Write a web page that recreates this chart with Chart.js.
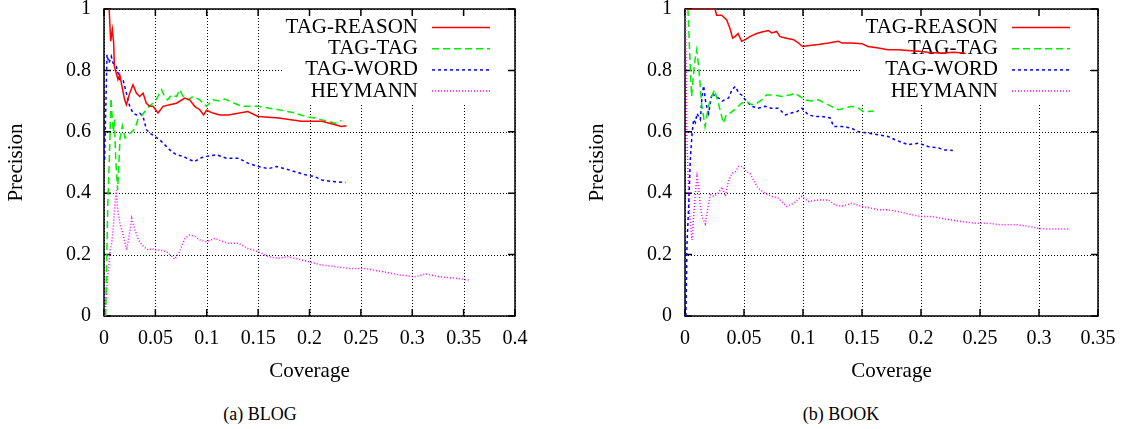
<!DOCTYPE html>
<html>
<head>
<meta charset="utf-8">
<title>Precision vs Coverage</title>
<script src="https://cdn.jsdelivr.net/npm/chart.js@4.4.0/dist/chart.umd.min.js"></script>
<style>
  body { margin: 0; background: #fff; }
  #wrap { position: relative; width: 1123px; height: 429px; font-family: "Liberation Serif", "Times New Roman", serif; }
  .panel { position: absolute; top: 0; height: 390px; }
  #blogPanel { left: 0; width: 560px; }
  #bookPanel { left: 580px; width: 543px; }
  .cap { position: absolute; top: 404px; font-size: 18px; line-height: 21px; transform: translateX(-50%); white-space: nowrap; }
</style>
</head>
<body>
<div id="wrap">
  <div class="panel" id="blogPanel"><canvas id="blogChart"></canvas></div>
  <div class="panel" id="bookPanel"><canvas id="bookChart"></canvas></div>
  <div class="cap" style="left:260px">(a) BLOG</div>
  <div class="cap" style="left:841px">(b) BOOK</div>
</div>
<script>
// ---- data ----
const seriesNames = ['TAG-REASON', 'TAG-TAG', 'TAG-WORD', 'HEYMANN'];
const precisionTicks = [0, 0.2, 0.4, 0.6, 0.8, 1];
const blogCoverageTicks = [0, 0.05, 0.1, 0.15, 0.2, 0.25, 0.3, 0.35, 0.4];
const bookCoverageTicks = [0, 0.05, 0.1, 0.15, 0.2, 0.25, 0.3, 0.35];

// (a) BLOG
const blogReasonX = [0.0050, 0.0065, 0.0081, 0.0094, 0.0101, 0.0114, 0.0136, 0.0153, 0.0175, 0.0201, 0.0218, 0.025, 0.0282, 0.0315, 0.0347, 0.038, 0.0412, 0.0445, 0.0477, 0.0526, 0.0575, 0.064, 0.0705, 0.0786, 0.0834, 0.0883, 0.0932, 0.097, 0.0997, 0.106, 0.1127, 0.121, 0.140, 0.150, 0.170, 0.192, 0.212, 0.225, 0.231, 0.236];
const blogReasonY = [1.0, 0.895, 0.933, 0.89, 0.813, 0.797, 0.77, 0.786, 0.748, 0.704, 0.688, 0.726, 0.753, 0.726, 0.715, 0.726, 0.693, 0.683, 0.683, 0.661, 0.683, 0.688, 0.693, 0.71, 0.704, 0.683, 0.672, 0.655, 0.67, 0.661, 0.655, 0.655, 0.666, 0.65, 0.645, 0.634, 0.634, 0.623, 0.617, 0.62];

const blogTagX = [0.0016, 0.0036, 0.0058, 0.0068, 0.0081, 0.0091, 0.0101, 0.0114, 0.0133, 0.0156, 0.0179, 0.0205, 0.0237, 0.027, 0.030, 0.033, 0.036, 0.043, 0.050, 0.056, 0.059, 0.062, 0.0656, 0.0705, 0.0737, 0.077, 0.0818, 0.0867, 0.0932, 0.0997, 0.106, 0.1127, 0.1175, 0.127, 0.134, 0.150, 0.170, 0.186, 0.196, 0.205, 0.218, 0.225, 0.231];
const blogTagY = [0, 0.35, 0.58, 0.71, 0.64, 0.60, 0.64, 0.51, 0.41, 0.58, 0.62, 0.58, 0.59, 0.60, 0.61, 0.64, 0.65, 0.68, 0.70, 0.737, 0.715, 0.704, 0.72, 0.715, 0.737, 0.715, 0.704, 0.715, 0.704, 0.683, 0.704, 0.70, 0.707, 0.693, 0.683, 0.683, 0.672, 0.661, 0.65, 0.645, 0.634, 0.628, 0.637];

const blogWordX = [0.0006, 0.0029, 0.0049, 0.0071, 0.0088, 0.012, 0.0153, 0.0185, 0.0218, 0.025, 0.0283, 0.0315, 0.0348, 0.038, 0.0413, 0.0445, 0.0494, 0.0543, 0.0608, 0.0657, 0.0705, 0.077, 0.0835, 0.0884, 0.0933, 0.0998, 0.1095, 0.119, 0.131, 0.140, 0.150, 0.160, 0.168, 0.176, 0.186, 0.196, 0.205, 0.212, 0.222, 0.235];
const blogWordY = [0.509, 0.851, 0.824, 0.846, 0.824, 0.813, 0.77, 0.77, 0.726, 0.683, 0.661, 0.655, 0.661, 0.65, 0.607, 0.596, 0.585, 0.574, 0.552, 0.536, 0.525, 0.52, 0.509, 0.503, 0.514, 0.52, 0.525, 0.514, 0.514, 0.498, 0.487, 0.48, 0.487, 0.48, 0.47, 0.46, 0.454, 0.443, 0.438, 0.435];

const blogHeymannX = [0.001, 0.0023, 0.0036, 0.0049, 0.0059, 0.0075, 0.0091, 0.0107, 0.012, 0.0133, 0.0156, 0.0189, 0.0221, 0.0254, 0.027, 0.0302, 0.0335, 0.0384, 0.0432, 0.0465, 0.0497, 0.0543, 0.0608, 0.064, 0.0689, 0.0737, 0.0786, 0.0835, 0.0884, 0.0933, 0.0997, 0.108, 0.116, 0.121, 0.131, 0.140, 0.150, 0.160, 0.170, 0.178, 0.186, 0.199, 0.212, 0.225, 0.238, 0.254, 0.270, 0.287, 0.303, 0.313, 0.326, 0.342, 0.355];
const blogHeymannY = [0, 0.074, 0.128, 0.17, 0.215, 0.237, 0.29, 0.367, 0.41, 0.346, 0.30, 0.26, 0.215, 0.28, 0.318, 0.28, 0.248, 0.226, 0.215, 0.22, 0.215, 0.215, 0.21, 0.2, 0.185, 0.21, 0.253, 0.264, 0.259, 0.248, 0.242, 0.253, 0.242, 0.237, 0.237, 0.22, 0.21, 0.193, 0.188, 0.193, 0.188, 0.177, 0.166, 0.161, 0.155, 0.155, 0.145, 0.134, 0.128, 0.137, 0.128, 0.123, 0.117];

// (b) BOOK
const bookReasonX = [0.0005, 0.0254, 0.0268, 0.031, 0.0353, 0.0367, 0.038, 0.0404, 0.0424, 0.045, 0.048, 0.051, 0.055, 0.0607, 0.066, 0.0706, 0.0735, 0.0777, 0.0805, 0.086, 0.092, 0.096, 0.0995, 0.104, 0.113, 0.1215, 0.13, 0.133, 0.141, 0.15, 0.155, 0.164, 0.172, 0.181, 0.189, 0.198, 0.206, 0.215, 0.22, 0.227, 0.237];
const bookReasonY = [1.0, 1.0, 0.98, 0.98, 0.965, 0.95, 0.938, 0.905, 0.91, 0.92, 0.895, 0.9, 0.91, 0.92, 0.926, 0.93, 0.922, 0.927, 0.91, 0.905, 0.9, 0.89, 0.878, 0.88, 0.884, 0.889, 0.895, 0.889, 0.889, 0.887, 0.878, 0.873, 0.867, 0.867, 0.865, 0.862, 0.859, 0.857, 0.857, 0.859, 0.857];

const bookTagX = [0.0025, 0.0042, 0.0056, 0.007, 0.0085, 0.0099, 0.0119, 0.014, 0.017, 0.0198, 0.0226, 0.025, 0.0297, 0.0325, 0.035, 0.038, 0.042, 0.048, 0.052, 0.0565, 0.061, 0.065, 0.069, 0.076, 0.082, 0.089, 0.093, 0.0975, 0.1017, 0.107, 0.113, 0.1187, 0.124, 0.13, 0.1356, 0.141, 0.147, 0.151, 0.155, 0.16];
const bookTagY = [1.0, 0.835, 0.715, 0.78, 0.835, 0.867, 0.80, 0.693, 0.617, 0.683, 0.715, 0.737, 0.672, 0.628, 0.655, 0.66, 0.672, 0.693, 0.70, 0.688, 0.693, 0.704, 0.72, 0.72, 0.715, 0.72, 0.726, 0.715, 0.704, 0.70, 0.704, 0.693, 0.683, 0.672, 0.677, 0.683, 0.677, 0.666, 0.666, 0.668];

const bookWordX = [0.0008, 0.0017, 0.003, 0.0045, 0.006, 0.0073, 0.0088, 0.0102, 0.0116, 0.013, 0.0144, 0.0158, 0.0172, 0.0186, 0.02, 0.0229, 0.0257, 0.0285, 0.0314, 0.0342, 0.037, 0.0398, 0.0427, 0.0455, 0.048, 0.051, 0.0565, 0.062, 0.068, 0.073, 0.079, 0.085, 0.09, 0.095, 0.099, 0.1045, 0.11, 0.116, 0.123, 0.126, 0.133, 0.141, 0.147, 0.155, 0.164, 0.172, 0.178, 0.189, 0.198, 0.206, 0.215, 0.22, 0.227];
const bookWordY = [0, 0.237, 0.346, 0.51, 0.595, 0.64, 0.63, 0.66, 0.65, 0.64, 0.715, 0.75, 0.705, 0.68, 0.66, 0.726, 0.715, 0.71, 0.70, 0.705, 0.71, 0.737, 0.748, 0.726, 0.72, 0.704, 0.683, 0.677, 0.683, 0.677, 0.677, 0.655, 0.661, 0.666, 0.677, 0.655, 0.65, 0.65, 0.645, 0.617, 0.617, 0.612, 0.60, 0.596, 0.59, 0.585, 0.574, 0.558, 0.563, 0.552, 0.547, 0.541, 0.539];

const bookHeymannX = [0.0004, 0.0015, 0.0035, 0.0059, 0.0073, 0.0088, 0.0102, 0.0116, 0.013, 0.0144, 0.0172, 0.02, 0.0215, 0.0243, 0.028, 0.0314, 0.0342, 0.037, 0.0398, 0.0426, 0.0455, 0.049, 0.052, 0.055, 0.058, 0.062, 0.068, 0.073, 0.079, 0.086, 0.092, 0.099, 0.1045, 0.113, 0.1215, 0.127, 0.133, 0.141, 0.15, 0.158, 0.164, 0.172, 0.181, 0.192, 0.2, 0.209, 0.2175, 0.226, 0.234, 0.246, 0.257, 0.268, 0.2825, 0.294, 0.299, 0.308, 0.316, 0.325];
const bookHeymannY = [1.0, 0.6, 0.35, 0.248, 0.324, 0.40, 0.454, 0.42, 0.36, 0.324, 0.30, 0.367, 0.395, 0.39, 0.40, 0.42, 0.39, 0.443, 0.465, 0.47, 0.487, 0.487, 0.47, 0.465, 0.443, 0.416, 0.40, 0.39, 0.384, 0.357, 0.367, 0.39, 0.373, 0.378, 0.378, 0.362, 0.357, 0.367, 0.357, 0.351, 0.346, 0.346, 0.34, 0.33, 0.324, 0.324, 0.318, 0.313, 0.308, 0.302, 0.302, 0.297, 0.297, 0.29, 0.286, 0.283, 0.283, 0.283];

// ---- styling ----
const lineStyles = [
  { color: '#ff0000', dash: [] },
  { color: '#00ee00', dash: [7, 4] },
  { color: '#0000ff', dash: [3, 3] },
  { color: '#ff00ff', dash: [1, 2] }
];

Chart.defaults.font.family = '"Liberation Serif", "Times New Roman", serif';
Chart.defaults.color = '#000';

function points(xs, ys) {
  return xs.map((x, i) => ({ x: x, y: ys[i] }));
}

// gnuplot-like dotted grid, key, frame and inner tick marks
const gnuFrame = {
  id: 'gnuFrame',
  beforeDatasetsDraw(chart, args, opts) {
    const { ctx, chartArea: a } = chart;
    const sx = chart.scales.x, sy = chart.scales.y;
    ctx.save();

    // dotted grid at the scale ticks
    ctx.strokeStyle = '#000';
    ctx.lineWidth = 1;
    ctx.setLineDash([1, 2]);
    ctx.beginPath();
    sx.ticks.forEach(t => {
      const px = Math.round(sx.getPixelForValue(t.value)) + 0.5;
      ctx.moveTo(px, a.bottom); ctx.lineTo(px, a.top);
    });
    sy.ticks.forEach(t => {
      const py = Math.round(sy.getPixelForValue(t.value)) + 0.5;
      ctx.moveTo(a.left, py); ctx.lineTo(a.right, py);
    });
    ctx.stroke();
    ctx.setLineDash([]);

    // key with opaque background
    const textRight = a.right - opts.textGap;
    ctx.fillStyle = '#fff';
    ctx.fillRect(textRight - 136, a.top + 1, a.right - 8 - (textRight - 136), 94);
    ctx.font = '21px "Liberation Serif", serif';
    ctx.textAlign = 'right';
    ctx.textBaseline = 'middle';
    chart.data.datasets.forEach((ds, i) => {
      const y = a.top + 18.5 + i * 21.2;
      ctx.fillStyle = '#000';
      ctx.fillText(ds.label, textRight, y);
      ctx.strokeStyle = ds.borderColor;
      ctx.lineWidth = ds.borderWidth;
      ctx.setLineDash(ds.borderDash);
      ctx.beginPath();
      ctx.moveTo(textRight + 14, y);
      ctx.lineTo(textRight + 72, y);
      ctx.stroke();
    });
    ctx.setLineDash([]);

    // frame and tick marks
    ctx.strokeStyle = '#000';
    ctx.lineWidth = 1.5;
    ctx.strokeRect(a.left, a.top, a.right - a.left, a.bottom - a.top);
    ctx.beginPath();
    sx.ticks.forEach(t => {
      const px = sx.getPixelForValue(t.value);
      ctx.moveTo(px, a.bottom); ctx.lineTo(px, a.bottom - 7);
      ctx.moveTo(px, a.top); ctx.lineTo(px, a.top + 7);
    });
    sy.ticks.forEach(t => {
      const py = sy.getPixelForValue(t.value);
      ctx.moveTo(a.left, py); ctx.lineTo(a.left + 7, py);
      ctx.moveTo(a.right, py); ctx.lineTo(a.right - 7, py);
    });
    ctx.stroke();
    ctx.restore();
  }
};

function makeChart(canvasId, series, xTicks, yAxisWidth, padRight, titlePad, textGap) {
  return new Chart(document.getElementById(canvasId), {
    type: 'line',
    data: {
      datasets: series.map((s, i) => ({
        label: seriesNames[i],
        data: points(s[0], s[1]),
        borderColor: lineStyles[i].color,
        borderDash: lineStyles[i].dash,
        borderWidth: 1.5,
        pointRadius: 0,
        tension: 0,
        fill: false
      }))
    },
    options: {
      responsive: true,
      maintainAspectRatio: false,
      animation: false,
      events: [],
      layout: { padding: { top: 9, right: padRight, left: 0, bottom: 0 } },
      plugins: {
        legend: { display: false },
        tooltip: { enabled: false },
        gnuFrame: { textGap: textGap }
      },
      scales: {
        x: {
          type: 'linear',
          min: xTicks[0],
          max: xTicks[xTicks.length - 1],
          afterBuildTicks: s => { s.ticks = xTicks.map(v => ({ value: v })); },
          afterFit: s => { s.height = 74; s.paddingLeft = 0; s.paddingRight = 0; },
          ticks: { font: { size: 20 }, padding: 11, maxRotation: 0, autoSkip: false, callback: v => String(v) },
          grid: { display: false, drawTicks: false },
          border: { display: false },
          title: { display: true, text: 'Coverage', font: { size: 21 }, padding: { top: 0, bottom: 6 } }
        },
        y: {
          min: 0,
          max: 1,
          afterBuildTicks: s => { s.ticks = precisionTicks.map(v => ({ value: v })); },
          afterFit: s => { s.width = yAxisWidth; s.paddingTop = 0; s.paddingBottom = 0; },
          ticks: { font: { size: 20 }, padding: 13, autoSkip: false, callback: v => String(v) },
          grid: { display: false, drawTicks: false },
          border: { display: false },
          title: { display: true, text: 'Precision', font: { size: 21 }, padding: { top: titlePad, bottom: 0 } }
        }
      }
    },
    plugins: [gnuFrame]
  });
}

makeChart('blogChart',
  [[blogReasonX, blogReasonY], [blogTagX, blogTagY], [blogWordX, blogWordY], [blogHeymannX, blogHeymannY]],
  blogCoverageTicks, 104, 45, 4, 97);

makeChart('bookChart',
  [[bookReasonX, bookReasonY], [bookTagX, bookTagY], [bookWordX, bookWordY], [bookHeymannX, bookHeymannY]],
  bookCoverageTicks, 105, 25, 5, 100);
</script>
</body>
</html>
